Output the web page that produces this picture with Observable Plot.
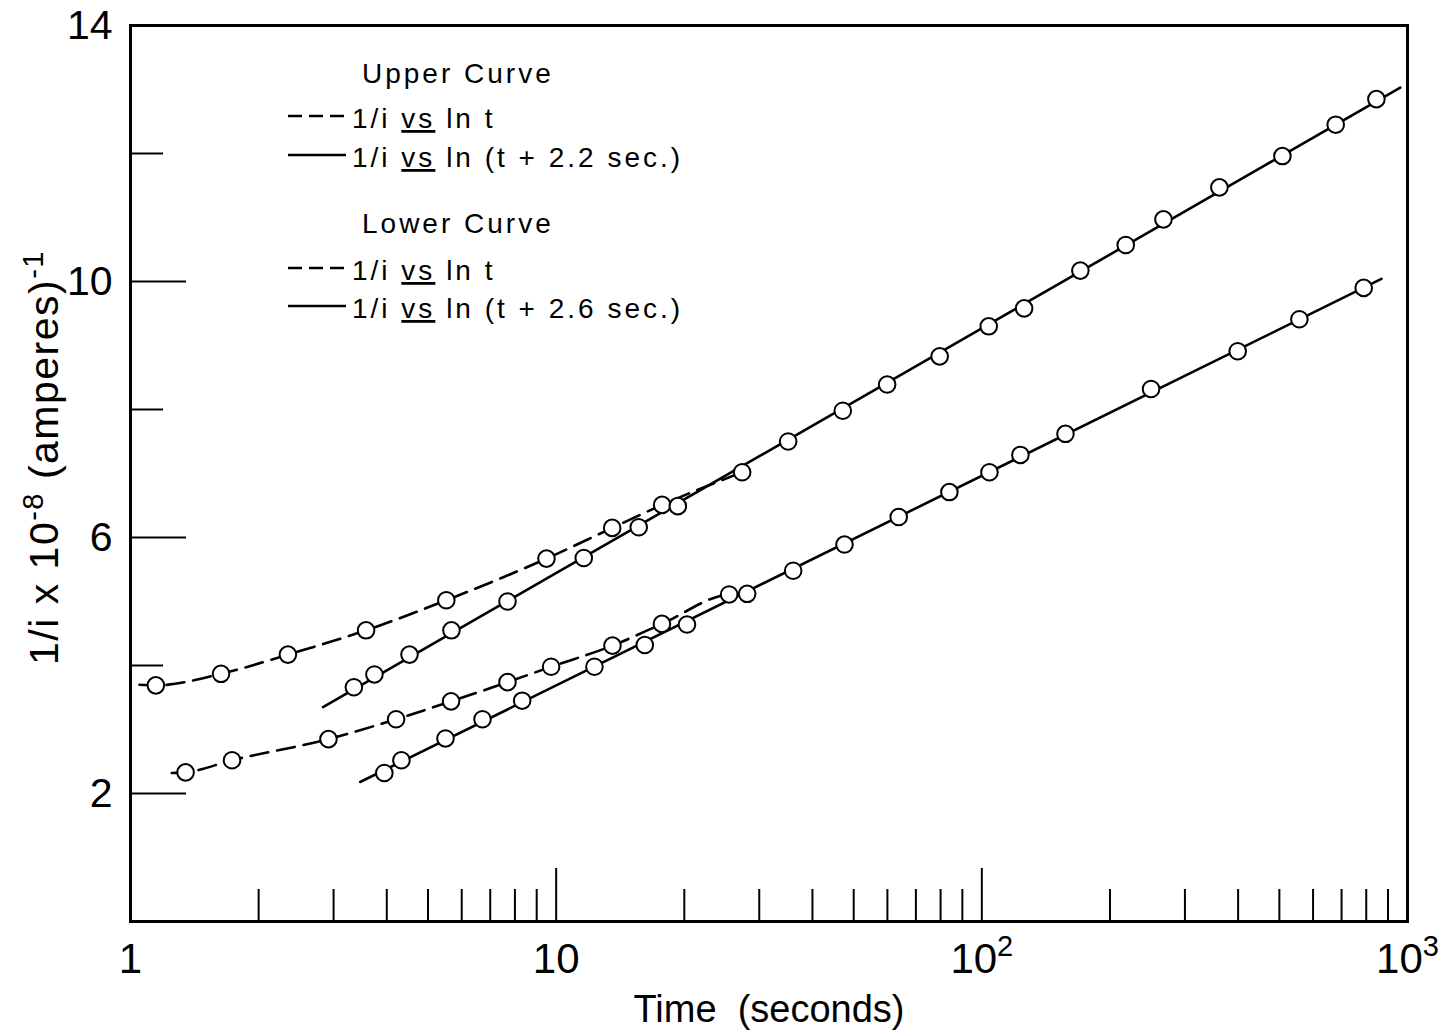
<!DOCTYPE html>
<html>
<head>
<meta charset="utf-8">
<script src="https://cdn.jsdelivr.net/npm/d3@7"></script>
<script src="https://cdn.jsdelivr.net/npm/@observablehq/plot@0.6"></script>
<style>
  html, body { margin: 0; padding: 0; background: #fff; }
  #wrap { position: relative; width: 1443px; height: 1034px; overflow: hidden; }
  #legend { position: absolute; left: 0; top: 0; pointer-events: none; }
</style>
</head>
<body>
<div id="wrap"></div>
<script>
// ---------- data ----------
// Upper curve, dashed: 1/i vs ln t
const upperDashedT = [1.147, 1.632, 2.343, 3.576, 5.52, 9.49, 13.54, 17.74];
const upperDashedV = [3.69, 3.87, 4.17, 4.55, 5.02, 5.67, 6.15, 6.51];
const upperDashedLineT = [1.05, 27.35];   // drawn line start / end
const upperDashedLineV = [3.70, 7.02];

// Upper curve, solid: 1/i vs ln (t + 2.2 sec.)
const upperSolidT = [3.348, 3.741, 4.523, 5.675, 7.685, 11.61, 15.63, 19.31, 27.35, 35.08, 47.13, 59.92,
                     79.6, 103.8, 125.7, 170.4, 217.8, 267.1, 361.5, 508.3, 678.2, 845.2];
const upperSolidV = [3.66, 3.86, 4.17, 4.55, 5.00, 5.68, 6.16, 6.49, 7.02, 7.50, 7.98, 8.39,
                     8.83, 9.30, 9.58, 10.17, 10.57, 10.97, 11.47, 11.96, 12.45, 12.85];
const upperSolidLineT = [2.833, 961.8];   // straight line drawn through the points
const upperSolidLineV = [3.35, 13.03];

// Lower curve, dashed: 1/i vs ln t
const lowerDashedT = [1.347, 1.732, 2.918, 4.207, 5.664, 7.685, 9.73, 13.56, 17.72, 25.49];
const lowerDashedV = [2.33, 2.52, 2.85, 3.16, 3.44, 3.74, 3.98, 4.31, 4.65, 5.11];
const lowerDashedLineT = [1.25, 28.10];
const lowerDashedLineV = [2.32, 5.12];

// Lower curve, solid: 1/i vs ln (t + 2.6 sec.)
const lowerSolidT = [3.947, 4.33, 5.495, 6.713, 8.32, 12.30, 16.15, 20.29, 28.10, 36.04, 47.57, 63.78,
                     83.9, 104.2, 123.2, 157.2, 249.8, 399.1, 557.2, 789];
const lowerSolidV = [2.32, 2.52, 2.86, 3.16, 3.45, 3.98, 4.32, 4.64, 5.12, 5.48, 5.89, 6.32,
                     6.71, 7.02, 7.29, 7.62, 8.32, 8.91, 9.41, 9.90];
const lowerSolidLineT = [3.464, 868.5];
const lowerSolidLineV = [2.18, 10.04];

// Ticks and labels
const xMinorTicks = [2, 3, 4, 5, 6, 7, 8, 9, 20, 30, 40, 50, 60, 70, 80, 90, 200, 300, 400, 500, 600, 700, 800, 900];
const xMajorTicks = [10, 100];
const xLabelTicks = [1, 10, 100, 1000];
const xTickLabels = ["1", "10", "10|2", "10|3"];   // "|" separates the superscript exponent
const yMajorTicks = [2, 6, 10];
const yMinorTicks = [4, 8, 12];
const yLabelTicks = [2, 6, 10, 14];
const yTickLabels = ["2", "6", "10", "14"];
const xTitle = "Time  (seconds)";
const yTitleParts = ["1/i x 10", "-8", " (amperes)", "-1"];

const legendHeads = ["Upper Curve", "Lower Curve"];
const legendRows = [
  {dash: true,  pre: "1/i ", vs: "vs", post: " ln t"},
  {dash: false, pre: "1/i ", vs: "vs", post: " ln (t + 2.2 sec.)"},
  {dash: true,  pre: "1/i ", vs: "vs", post: " ln t"},
  {dash: false, pre: "1/i ", vs: "vs", post: " ln (t + 2.6 sec.)"}
];

// ---------- build tables ----------
const pts = (T, V) => T.map((t, i) => ({t, v: V[i]}));
const withEnds = (T, V, LT, LV) => [{t: LT[0], v: LV[0]}, ...pts(T, V), {t: LT[1], v: LV[1]}];

const upperDashedPts = pts(upperDashedT, upperDashedV);
const upperSolidPts = pts(upperSolidT, upperSolidV);
const lowerDashedPts = pts(lowerDashedT, lowerDashedV);
const lowerSolidPts = pts(lowerSolidT, lowerSolidV);

const FONT = '"Liberation Sans Narrow", "Liberation Sans", Arial, sans-serif';
const DASH = "18,9";

const chart = Plot.plot({
  width: 1443,
  height: 1034,
  marginLeft: 130,
  marginRight: 36,
  marginTop: 25,
  marginBottom: 113,
  style: {fontFamily: FONT, background: "white", color: "black"},
  x: {type: "log", domain: [1, 1000]},
  y: {domain: [0, 14]},
  marks: [
    // x ticks pointing inward
    Plot.axisX({ticks: xMinorTicks, tickSize: -32, tickFormat: () => "", strokeWidth: 2, label: null}),
    Plot.axisX({ticks: xMajorTicks, tickSize: -53, tickFormat: () => "", strokeWidth: 2, label: null}),
    Plot.axisX({ticks: xLabelTicks, tickSize: 0, tickPadding: 22, fontSize: 42, label: null,
                tickFormat: d => xTickLabels[xLabelTicks.indexOf(d)]}),
    // y ticks pointing inward
    Plot.axisY({ticks: yMajorTicks, tickSize: -56, tickFormat: () => "", strokeWidth: 2, label: null}),
    Plot.axisY({ticks: yMinorTicks, tickSize: -33, tickFormat: () => "", strokeWidth: 2, label: null}),
    Plot.axisY({ticks: yLabelTicks, tickSize: 0, tickPadding: 18, fontSize: 41, label: null,
                tickFormat: d => yTickLabels[yLabelTicks.indexOf(d)]}),
    // axis titles
    Plot.text([xTitle], {frameAnchor: "bottom", dy: 88, fontSize: 38, text: d => d,
                textAnchor: "middle", lineAnchor: "middle"}),
    Plot.text([yTitleParts.join("")], {frameAnchor: "left", rotate: -90, dx: -86, dy: -16, fontSize: 41,
                text: d => d, textAnchor: "middle", lineAnchor: "middle"}),
    // curves
    Plot.line(withEnds(upperDashedT, upperDashedV, upperDashedLineT, upperDashedLineV),
      {x: "t", y: "v", stroke: "black", strokeWidth: 2.6, strokeDasharray: DASH, curve: "monotone-x"}),
    Plot.line(withEnds(lowerDashedT, lowerDashedV, lowerDashedLineT, lowerDashedLineV),
      {x: "t", y: "v", stroke: "black", strokeWidth: 2.6, strokeDasharray: DASH, curve: "monotone-x"}),
    Plot.line(pts(upperSolidLineT, upperSolidLineV),
      {x: "t", y: "v", stroke: "black", strokeWidth: 2.6}),
    Plot.line(pts(lowerSolidLineT, lowerSolidLineV),
      {x: "t", y: "v", stroke: "black", strokeWidth: 2.6}),
    // data points
    Plot.dot([...upperDashedPts, ...upperSolidPts, ...lowerDashedPts, ...lowerSolidPts],
      {x: "t", y: "v", r: 8.3, fill: "white", stroke: "black", strokeWidth: 2}),
    Plot.frame({stroke: "black", strokeWidth: 3})
  ]
});

document.getElementById("wrap").appendChild(chart);

const NS = "http://www.w3.org/2000/svg";
const mkSpan = (s, dy, size) => {
  const sp = document.createElementNS(NS, "tspan");
  sp.textContent = s;
  if (dy) sp.setAttribute("dy", dy);
  if (size) sp.setAttribute("font-size", size);
  return sp;
};

// superscripts in the y title and in the x tick labels
(function () {
  const full = yTitleParts.join("");
  chart.querySelectorAll("text").forEach(t => {
    const s = t.textContent;
    if (s === full) {
      t.textContent = "";
      t.appendChild(mkSpan(yTitleParts[0]));
      t.appendChild(mkSpan(yTitleParts[1], "-15", "29"));
      t.appendChild(mkSpan(yTitleParts[2], "15"));
      t.appendChild(mkSpan(yTitleParts[3], "-15", "29"));
      t.setAttribute("letter-spacing", "1.5");
    } else if (s.includes("|")) {
      const [base, exp] = s.split("|");
      t.textContent = "";
      t.appendChild(mkSpan(base));
      t.appendChild(mkSpan(exp, "-17", "29"));
    }
  });
})();

// legend overlay
(function () {
  const svg = d3.select("#wrap").append("svg")
    .attr("id", "legend").attr("width", 1443).attr("height", 1034)
    .style("font-family", FONT);
  const headY = [83, 233];
  const rowY = [116, 155, 268, 306];
  legendHeads.forEach((h, i) => {
    svg.append("text").attr("x", 362).attr("y", headY[i]).attr("font-size", 28)
      .attr("letter-spacing", 3).text(h);
  });
  legendRows.forEach((r, i) => {
    const y = rowY[i];
    svg.append("line").attr("x1", 288).attr("x2", 346).attr("y1", y).attr("y2", y)
      .attr("stroke", "black").attr("stroke-width", 2.6)
      .attr("stroke-dasharray", r.dash ? "14,7" : null);
    const t = svg.append("text").attr("x", 352).attr("y", y + 12).attr("font-size", 28)
      .attr("letter-spacing", 3);
    t.append("tspan").text(r.pre);
    t.append("tspan").attr("text-decoration", "underline").text(r.vs);
    t.append("tspan").text(r.post);
  });
})();
</script>
</body>
</html>
